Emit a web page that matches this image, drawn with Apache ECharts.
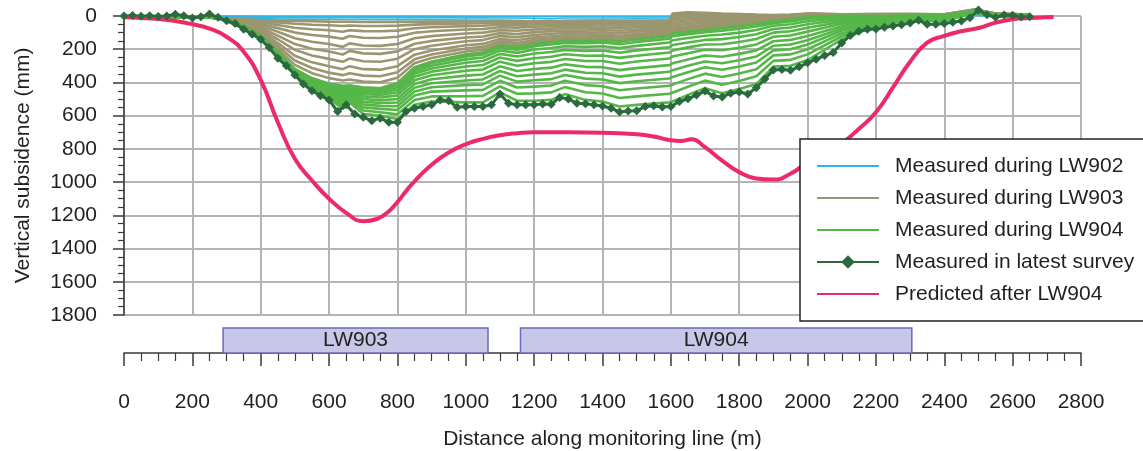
<!DOCTYPE html>
<html><head><meta charset="utf-8">
<script src="https://cdn.jsdelivr.net/npm/echarts@6/dist/echarts.min.js"></script>
<style>html,body{margin:0;padding:0;background:#fff}#c{width:1143px;height:451px}</style>
</head><body><div id="c"></div>
<script>
// ---------- DATA ----------
const SURVEY_X = [0,100,200,250,300,350,400,450,500,550,600,640,660,700,750,800,850,900,1000,1050,1100,1150,1200,1250,1290,1350,1400,1450,1500,1595,1605,1650,1700,1750,1800,1850,1900,1950,2000,2100,2200,2300,2400,2490,2550,2650];

const lw902_a = [0,0,0,0,1,1,2,2,2,2,2,2,2,2,2,2,2,2,3,3,3,3,3,3,3,3,3,3,3,2,0,0,0,0,0,0,0,0,0,0,0,0,0,-5,0,0];
const lw902_b = [2,3,4,4,6,7,8,9,9,10,10,10,10,10,10,10,10,10,11,11,12,12,14,16,12,12,12,12,13,12,2,2,2,2,2,2,2,2,2,2,2,2,2,-10,2,2];
const lw902_c = [4,6,8,8,12,14,16,18,19,20,20,21,21,21,22,22,22,22,24,24,25,26,30,32,26,25,26,28,30,24,4,4,4,4,4,4,4,4,4,4,4,4,5,-5,5,5];

const lw903_01 = [2,5,8,9,15,20,25,28,30,32,34,35,35,36,36,36,35,34,33,33,32,32,32,30,30,30,28,28,28,26,-15,-22,-20,-15,-12,-8,-6,-8,-15,-10,-12,-12,-10,-40,-15,-8];
const lw903_02 = [2,5,8,9,16,22,31,39,47,53,56,60,57,60,60,58,52,49,45,44,41,42,40,38,37,38,35,36,35,32,-8,-15,-14,-10,-8,-5,-4,-6,-14,-10,-11,-11,-10,-39,-15,-8];
const lw903_03 = [2,5,8,9,16,26,38,54,71,80,86,95,86,91,92,88,74,68,61,59,53,54,51,48,47,48,44,46,44,39,2,-6,-5,-3,-2,0,-1,-4,-12,-9,-10,-11,-9,-39,-14,-8];
const lw903_04 = [2,5,8,9,17,30,48,73,100,114,124,137,120,131,132,125,101,92,81,78,68,70,65,61,59,60,56,58,55,49,14,6,5,6,6,5,3,-1,-10,-8,-9,-10,-9,-38,-14,-7];
const lw903_05 = [2,5,8,9,19,34,59,95,134,155,169,186,165,178,180,169,134,121,105,100,85,89,81,76,73,74,70,73,68,60,28,20,17,16,15,12,8,3,-7,-7,-8,-8,-8,-36,-13,-7];
const lw903_06 = [2,5,8,9,20,39,71,118,169,197,214,232,210,225,228,213,167,150,129,123,103,108,97,91,88,88,84,89,82,71,43,34,30,27,24,19,12,6,-5,-6,-6,-7,-8,-35,-13,-7];
const lw903_07 = [2,5,8,9,21,44,82,140,204,238,258,276,256,272,275,257,200,179,152,145,121,127,114,107,102,103,98,104,95,82,57,48,42,37,32,26,17,10,-2,-5,-5,-6,-7,-34,-12,-6];
const lw903_08 = [2,5,8,9,22,49,93,163,239,279,303,320,302,320,323,302,233,208,176,168,139,146,130,122,116,117,112,119,109,94,71,62,55,48,41,32,21,14,0,-4,-3,-5,-7,-33,-12,-6];
const lw903_09 = [2,5,8,9,23,53,103,181,268,313,341,356,345,359,363,339,261,232,196,186,153,162,144,135,128,129,124,131,120,103,83,73,65,56,49,38,25,17,2,-3,-2,-4,-6,-32,-11,-6];
const lw903_10 = [2,5,8,9,24,56,111,198,294,344,374,388,382,395,399,372,285,253,214,203,167,176,156,147,139,140,135,143,130,112,94,84,75,64,55,43,29,19,4,-3,-1,-3,-6,-31,-11,-5];
const lw903_11 = [2,5,8,9,25,60,120,215,320,375,408,422,418,430,435,405,310,275,232,220,180,190,168,158,150,150,145,154,140,120,105,94,84,72,62,48,32,22,6,-2,0,-2,-5,-30,-10,-5];

const lw904_01 = [2,5,8,8,25,60,120,215,320,375,408,422,418,430,435,405,310,275,232,220,180,190,168,158,150,150,145,154,140,120,105,94,84,72,62,48,32,22,6,-2,0,-2,-5,-30,-10,-5];
const lw904_02 = [2,5,8,8,25,61,121,216,321,378,412,428,422,436,442,414,319,285,244,232,191,203,182,172,163,164,160,170,156,136,121,109,98,88,77,63,43,33,16,4,2,-1,-4,-30,-10,-5];
const lw904_03 = [2,5,8,7,26,62,122,219,323,382,417,436,428,446,452,427,333,299,261,250,208,222,202,193,182,186,182,193,180,160,146,132,119,111,100,84,59,50,32,12,6,1,-2,-29,-9,-4];
const lw904_04 = [2,5,8,7,26,63,123,221,325,386,423,446,435,457,463,442,348,316,281,271,228,244,226,217,204,210,208,221,207,188,175,159,144,139,126,110,78,69,50,22,10,3,1,-28,-8,-4];
const lw904_05 = [2,4,8,6,26,64,125,224,328,391,430,457,444,470,476,459,366,335,304,295,250,270,254,245,230,239,238,252,239,220,208,189,172,170,157,139,100,92,71,34,15,5,4,-28,-8,-3];
const lw904_06 = [2,4,8,6,27,65,127,227,330,397,438,469,453,484,491,478,387,357,330,322,275,299,284,276,259,271,271,287,274,256,244,224,203,206,191,171,125,117,94,46,20,7,7,-27,-7,-3];
const lw904_07 = [2,4,8,5,27,67,129,230,333,404,446,483,463,500,508,500,409,381,359,352,303,331,319,311,291,306,308,326,314,296,285,262,238,245,228,207,152,144,120,61,26,10,10,-26,-6,-2];
const lw904_08 = [2,4,8,5,28,68,131,234,336,410,455,497,473,516,524,521,432,405,388,382,331,363,353,345,323,342,345,365,353,336,326,300,274,284,266,244,179,172,146,75,32,13,14,-25,-5,-1];
const lw904_09 = [2,4,8,4,28,70,133,237,339,417,464,510,483,532,541,543,454,429,416,412,359,395,387,380,355,377,382,404,393,376,367,338,309,324,304,280,207,200,172,89,38,15,17,-24,-4,-1];
const lw904_10 = [2,3,8,4,29,71,135,241,343,424,473,526,495,550,559,566,479,455,448,445,390,430,425,418,390,416,423,447,436,420,413,380,347,367,346,320,237,231,200,105,45,18,21,-23,-3,0];
const lw904_11 = [2,3,8,3,29,73,137,245,346,432,484,542,507,569,579,592,506,484,483,481,424,468,466,460,428,459,467,494,484,468,462,426,389,414,391,363,270,264,231,122,52,22,26,-21,-1,1];
const lw904_12 = [2,3,8,2,30,75,140,250,350,440,495,560,520,590,600,620,535,515,520,520,460,510,510,505,470,505,515,545,535,520,515,475,435,465,440,410,305,300,265,140,60,25,30,-20,0,2];

const LATEST_X = [0,25,50,75,100,125,150,175,200,225,250,275,300,325,350,375,400,425,450,475,500,525,550,575,600,625,650,675,700,725,750,775,800,825,850,875,900,925,950,975,1000,1025,1050,1075,1100,1125,1150,1175,1200,1225,1250,1275,1300,1325,1350,1375,1400,1425,1450,1475,1500,1525,1550,1575,1600,1625,1650,1675,1700,1725,1750,1775,1800,1825,1850,1875,1900,1925,1950,1975,2000,2025,2050,2075,2100,2125,2150,2175,2200,2225,2250,2275,2300,2325,2350,2375,2400,2425,2450,2475,2500,2525,2550,2575,2600,2625,2650];
const LATEST_Y = [0,-3,2,-2,3,0,-10,-2,12,5,-12,8,28,45,80,110,140,190,255,300,355,410,450,480,505,575,535,590,610,630,615,640,640,575,555,545,535,505,510,550,545,545,545,535,470,525,535,535,535,530,532,490,500,525,528,535,542,555,578,572,570,545,540,548,545,515,498,476,452,482,488,465,458,470,432,380,325,322,326,306,282,260,238,220,162,118,92,80,78,68,60,52,42,26,50,50,45,38,30,10,-36,-8,8,-6,-4,6,4];

const PRED_X = [0,50,100,150,200,250,300,350,400,450,500,550,600,650,700,740,775,800,825,850,900,950,1000,1050,1100,1150,1200,1300,1400,1500,1550,1600,1630,1660,1700,1750,1800,1850,1900,1950,2000,2050,2100,2150,2200,2250,2300,2350,2400,2450,2500,2550,2600,2650,2720];
const PRED_Y = [8,12,18,30,50,76,125,215,385,640,860,990,1100,1185,1235,1222,1175,1120,1055,995,895,822,772,740,718,706,700,700,703,712,725,748,752,742,790,870,940,978,985,950,880,820,765,680,580,430,275,160,120,92,72,40,20,12,6];

const PANEL_NAMES = ['LW903','LW904'];
const PANEL_START = [290,1160];
const PANEL_END = [1065,2305];

const LEGEND_NAMES = ['Measured during LW902','Measured during LW903','Measured during LW904','Measured in latest survey','Predicted after LW904'];

// ---------- CHART ----------
const FONT = '"Liberation Sans", Arial, sans-serif';
const TXT = '#231f20';
const pairs = (xs, ys) => xs.map((x, i) => [x, ys[i]]);

const series = [];
function lineSeries(name, ys, color, width) {
  series.push({
    type: 'line', name: name, data: pairs(SURVEY_X, ys), symbol: 'none',
    lineStyle: { color: color, width: width }, itemStyle: { color: color },
    clip: false, silent: true, xAxisIndex: 0, yAxisIndex: 0
  });
}
[lw902_a, lw902_b, lw902_c].forEach(a => lineSeries(LEGEND_NAMES[0], a, '#31b7e6', 1.6));
[lw903_01, lw903_02, lw903_03, lw903_04, lw903_05, lw903_06, lw903_07, lw903_08, lw903_09, lw903_10, lw903_11]
  .forEach(a => lineSeries(LEGEND_NAMES[1], a, '#9b9670', 2.6));
[lw904_01, lw904_02, lw904_03, lw904_04, lw904_05, lw904_06, lw904_07, lw904_08, lw904_09, lw904_10, lw904_11, lw904_12]
  .forEach(a => lineSeries(LEGEND_NAMES[2], a, '#55b748', 2.6));

series.push({
  type: 'line', name: LEGEND_NAMES[3], data: pairs(LATEST_X, LATEST_Y),
  symbol: 'diamond', symbolSize: 9, showSymbol: true,
  lineStyle: { color: '#2b6a3e', width: 3 }, itemStyle: { color: '#2b6a3e' },
  clip: false, silent: true, xAxisIndex: 0, yAxisIndex: 0
});
series.push({
  type: 'line', name: LEGEND_NAMES[4], data: pairs(PRED_X, PRED_Y),
  symbol: 'none', smooth: 0.5,
  lineStyle: { color: '#ec2a67', width: 4 }, itemStyle: { color: '#ec2a67' },
  clip: false, silent: true, xAxisIndex: 0, yAxisIndex: 0
});
series.push({
  type: 'custom', xAxisIndex: 1, yAxisIndex: 1, silent: true,
  data: PANEL_START.map((s, i) => [s, PANEL_END[i]]),
  encode: { x: [0, 1] },
  renderItem: function (params, api) {
    const a = api.coord([api.value(0), 1]);
    const b = api.coord([api.value(1), 0]);
    return {
      type: 'group', children: [
        { type: 'rect', shape: { x: a[0], y: a[1], width: b[0] - a[0], height: b[1] - a[1] },
          style: { fill: '#c9c7e7', stroke: '#6b6bbf', lineWidth: 1.5 } },
        { type: 'text', style: { text: PANEL_NAMES[params.dataIndex], x: (a[0] + b[0]) / 2, y: (a[1] + b[1]) / 2,
          align: 'center', verticalAlign: 'middle', font: '21px ' + FONT, fill: TXT } }
      ]
    };
  }
});

const plain = v => String(v);
const chart = echarts.init(document.getElementById('c'), null, { renderer: 'canvas' });
chart.setOption({
  animation: false,
  textStyle: { fontFamily: FONT, color: TXT },
  grid: [
    { left: 124, top: 16, width: 957, height: 299 },
    { left: 124, top: 328, width: 957, height: 25 }
  ],
  xAxis: [
    { type: 'value', gridIndex: 0, min: 0, max: 2800, interval: 200,
      axisLine: { show: false }, axisTick: { show: false }, axisLabel: { show: false },
      splitLine: { show: true, lineStyle: { color: '#b4b4b4', width: 2 } } },
    { type: 'value', gridIndex: 1, min: 0, max: 2800, interval: 200, position: 'bottom', offset: 9,
      axisLine: { show: true, lineStyle: { color: '#3a3a3a', width: 1.5 } },
      axisTick: { show: true, length: 13, lineStyle: { color: '#3a3a3a', width: 1.5 } },
      minorTick: { show: true, splitNumber: 4, length: 8, lineStyle: { color: '#3a3a3a', width: 1.2 } },
      axisLabel: { fontSize: 21, color: TXT, margin: 30, fontFamily: FONT, formatter: plain },
      splitLine: { show: false },
      name: 'Distance along monitoring line (m)', nameLocation: 'middle', nameGap: 67,
      nameTextStyle: { fontSize: 21, color: TXT, fontFamily: FONT } }
  ],
  yAxis: [
    { type: 'value', gridIndex: 0, inverse: true, min: 0, max: 1800, interval: 200,
      axisLine: { show: true, lineStyle: { color: '#3a3a3a', width: 1.5 } },
      axisTick: { show: true, length: 11, lineStyle: { color: '#3a3a3a', width: 1.5 } },
      minorTick: { show: true, splitNumber: 4, length: 6, lineStyle: { color: '#3a3a3a', width: 1.2 } },
      axisLabel: { fontSize: 21, color: TXT, margin: 27, fontFamily: FONT, formatter: plain },
      splitLine: { show: true, lineStyle: { color: '#b4b4b4', width: 2 } },
      name: 'Vertical subsidence (mm)', nameLocation: 'middle', nameGap: 90,
      nameTextStyle: { fontSize: 21, color: TXT, fontFamily: FONT } },
    { type: 'value', gridIndex: 1, min: 0, max: 1, show: false }
  ],
  legend: {
    data: [
      { name: LEGEND_NAMES[0], itemStyle: { opacity: 0 } },
      { name: LEGEND_NAMES[1], itemStyle: { opacity: 0 } },
      { name: LEGEND_NAMES[2], itemStyle: { opacity: 0 } },
      { name: LEGEND_NAMES[3] },
      { name: LEGEND_NAMES[4], itemStyle: { opacity: 0 } }
    ],
    orient: 'vertical', left: 800, top: 139,
    padding: [16, 60, 16, 16], backgroundColor: '#fff', borderColor: '#222', borderWidth: 1.5,
    itemWidth: 62, itemHeight: 17, itemGap: 10, selectedMode: false,
    textStyle: { fontSize: 21, color: TXT, fontFamily: FONT, lineHeight: 22, padding: [0, 0, 0, 11] }
  },
  series: series
});
</script></body></html>
